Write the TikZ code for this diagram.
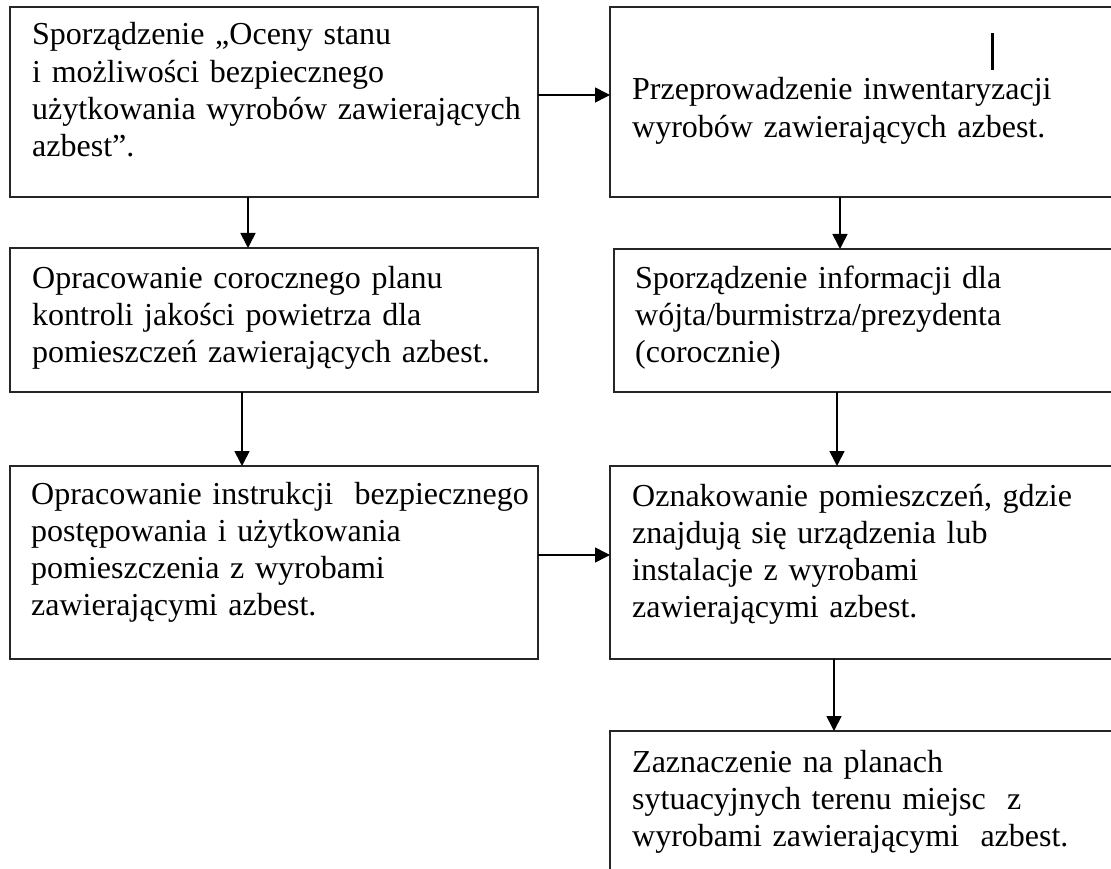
\documentclass[tikz,border=0pt]{standalone}
\usepackage{fontspec}
\setmainfont{Liberation Serif}
\usetikzlibrary{arrows.meta}
\tikzset{
  box/.style={draw=black!85, line width=1.6pt, rectangle, inner sep=0pt, outer sep=0pt, anchor=north west},
  txt/.style={anchor=base west, text width=560pt, align=left, inner sep=0pt,
    font=\fontsize{32}{37.3}\selectfont},
  arr/.style={draw=black, line width=1.6pt, -{Triangle[length=15pt,width=15pt]}}
}
\begin{document}
\begin{tikzpicture}[x=1pt,y=-1pt]
\useasboundingbox (0,0) rectangle (1111,869);
\clip (0,0) rectangle (1111,869);
% boxes
\node[box, minimum width=528pt, minimum height=190pt] (b1) at (10,7) {};
\node[box, minimum width=515pt, minimum height=190pt] (b2) at (610,7) {};
\node[box, minimum width=528pt, minimum height=144pt] (b3) at (10,248) {};
\node[box, minimum width=511pt, minimum height=143pt] (b4) at (614,249) {};
\node[box, minimum width=528pt, minimum height=193pt] (b5) at (10,466) {};
\node[box, minimum width=515pt, minimum height=193pt] (b6) at (610,466) {};
\node[box, minimum width=515pt, minimum height=180pt] (b7) at (610,731) {};
% texts
\node[txt] (t1) at (32,45) {Sporządzenie „Oceny stanu\\i możliwości bezpiecznego\\użytkowania wyrobów zawierających\\azbest”.};
\node[txt] (t2) at (632,100) {Przeprowadzenie inwentaryzacji\\wyrobów zawierających azbest.};
\node[txt] (t3) at (32,288) {Opracowanie corocznego planu\\kontroli jakości powietrza dla\\pomieszczeń zawierających azbest.};
\node[txt] (t4) at (635,288) {Sporządzenie informacji dla\\wójta/burmistrza/prezydenta\\(corocznie)};
\node[txt] (t5) at (31,504) {Opracowanie instrukcji\ \ bezpiecznego\\postępowania i użytkowania\\pomieszczenia z wyrobami\\zawierającymi azbest.};
\node[txt] (t6) at (632,506) {Oznakowanie pomieszczeń, gdzie\\znajdują się urządzenia lub\\instalacje z wyrobami\\zawierającymi azbest.};
\node[txt] (t7) at (632,772) {Zaznaczenie na planach\\sytuacyjnych terenu miejsc\ \ z\\wyrobami zawierającymi\ \ azbest.};
% stray mark
\coordinate (m1) at (992,33);
\coordinate (m2) at (992,70);
\draw[line width=3pt] (m1) -- (m2);
% arrows
\draw[arr] (b1.east |- 0,95) -- (b2.west |- 0,95);
\draw[arr] (b1.south -| 248,0) -- (b3.north -| 248,0);
\draw[arr] (b2.south -| 840,0) -- (b4.north -| 840,0);
\draw[arr] (b3.south -| 242,0) -- (b5.north -| 242,0);
\draw[arr] (b4.south -| 837,0) -- (b6.north -| 837,0);
\draw[arr] (b5.east |- 0,555) -- (b6.west |- 0,555);
\draw[arr] (b6.south -| 834,0) -- (b7.north -| 834,0);
\end{tikzpicture}
\end{document}
